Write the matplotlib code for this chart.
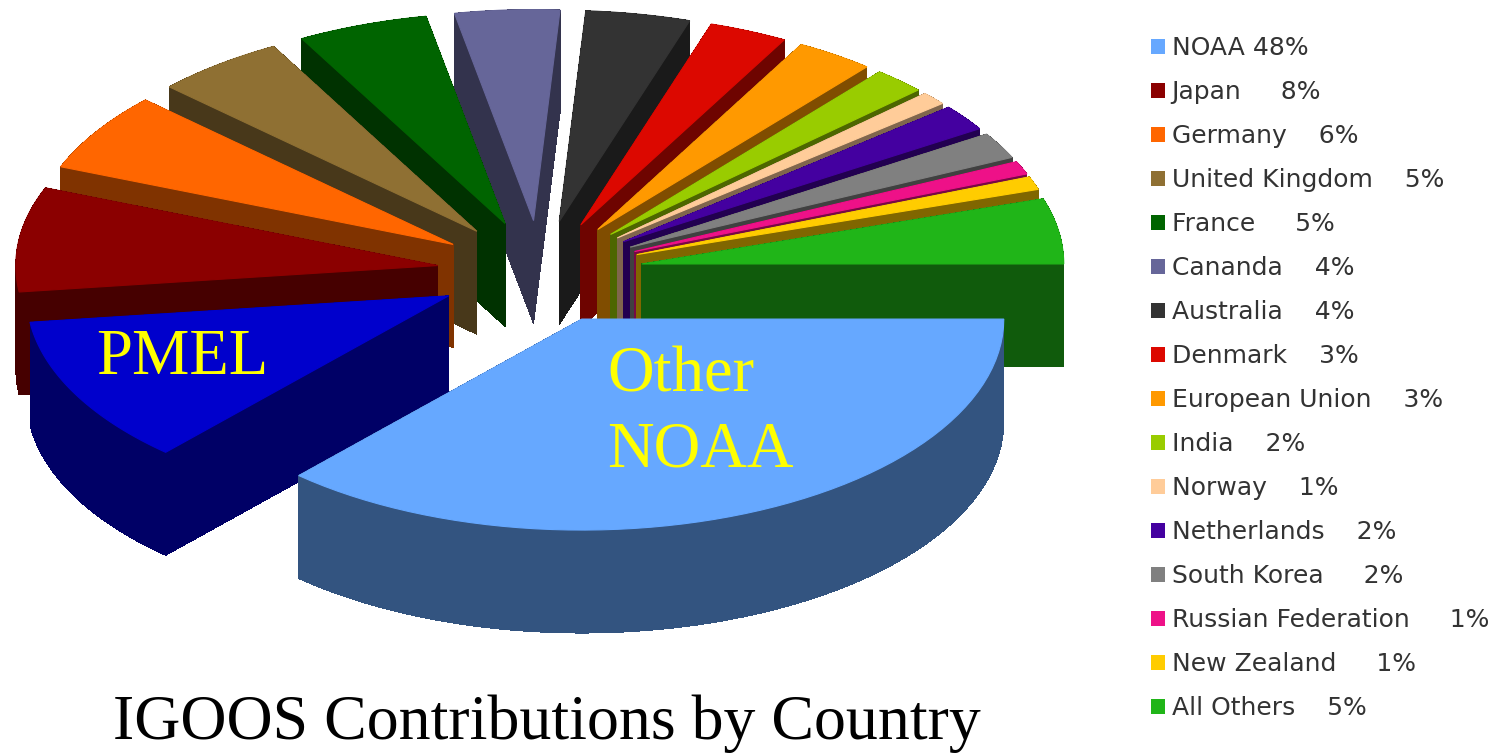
import numpy as np
import matplotlib
matplotlib.use('Agg')
import matplotlib.pyplot as plt
from matplotlib.collections import PolyCollection
from matplotlib.patches import Patch, Polygon

# Slices in clockwise order, NOAA split into its two parts
slice_names = ['Other NOAA', 'PMEL', 'Japan', 'Germany', 'United Kingdom', 'France',
               'Cananda', 'Australia', 'Denmark', 'European Union', 'India', 'Norway',
               'Netherlands', 'South Korea', 'Russian Federation', 'New Zealand', 'All Others']
slice_values = [36.7, 11.3, 8, 6, 5, 5, 4, 4, 3, 3, 2, 1, 2, 2, 1, 1, 5]
slice_colors = ['#66A8FF', '#0000CC', '#8B0000', '#FF6600', '#8F7033', '#006400',
                '#666699', '#333333', '#DC0800', '#FF9900', '#99CC00', '#FFCC99',
                '#4400A0', '#808080', '#EE1188', '#FFCC00', '#20B518']

legend_labels = ['NOAA 48%', 'Japan     8%', 'Germany    6%', 'United Kingdom    5%', 'France     5%',
                 'Cananda    4%', 'Australia    4%', 'Denmark    3%', 'European Union    3%', 'India    2%',
                 'Norway    1%', 'Netherlands    2%', 'South Korea     2%', 'Russian Federation     1%',
                 'New Zealand     1%', 'All Others    5%']
legend_colors = ['#66A8FF'] + slice_colors[2:]

# Pie geometry, in image pixels
CX, CY = 540, 272
RADIUS = 422
SQUASH = 0.5
EXPLODE = 103
DEPTH = 103


def wedge_outline(start, end):
    """Top face of one exploded slice, angles in degrees clockwise from 3 o'clock."""
    mid = np.radians((start + end) / 2)
    ax0 = CX + EXPLODE * np.cos(mid)
    ay0 = CY + EXPLODE * SQUASH * np.sin(mid)
    t = np.radians(np.linspace(start, end, 60))
    xs = ax0 + RADIUS * np.cos(t)
    ys = ay0 + RADIUS * SQUASH * np.sin(t)
    return np.column_stack([np.r_[ax0, xs], np.r_[ay0, ys]])


def side_quads(outline):
    """One vertical quad per edge of the top face."""
    quads = []
    for p, q in zip(outline, np.roll(outline, -1, axis=0)):
        quads.append([p, q, q + [0, DEPTH], p + [0, DEPTH]])
    return quads


def darker(color):
    return tuple(c * 0.5 for c in matplotlib.colors.to_rgb(color))


fig = plt.figure(figsize=(14.95, 7.53), dpi=100)
ax = fig.add_axes([0, 0, 1, 1])
ax.set_xlim(0, 1495)
ax.set_ylim(753, 0)
ax.axis('off')

edges = np.cumsum([0] + slice_values) * 3.6
mids = (edges[:-1] + edges[1:]) / 2

# Paint from the back of the pie to the front
for i in np.argsort(np.sin(np.radians(mids))):
    outline = wedge_outline(edges[i], edges[i + 1])
    side = darker(slice_colors[i])
    ax.add_collection(PolyCollection(side_quads(outline), facecolors=[side], edgecolors='none',
                                     linewidths=0, antialiaseds=False))
    ax.add_patch(Polygon(outline, closed=True, facecolor=slice_colors[i], edgecolor=slice_colors[i], linewidth=0.8))

ax.text(96, 358, 'PMEL', color='#FFFF00', fontsize=46.5, family='Liberation Serif', ha='left', va='center')
ax.text(607, 376, 'Other', color='#FFFF00', fontsize=46.5, family='Liberation Serif', ha='left', va='center')
ax.text(607, 451, 'NOAA', color='#FFFF00', fontsize=46.5, family='Liberation Serif', ha='left', va='center')
ax.text(547, 724, 'IGOOS Contributions by Country', color='black', fontsize=46,
        family='Liberation Serif', ha='center', va='center')

handles = [Patch(facecolor=c, edgecolor='none') for c in legend_colors]
ax.legend(handles, legend_labels, loc='upper left', bbox_to_anchor=(1151, 36), bbox_transform=ax.transData,
          frameon=False, prop={'family': 'DejaVu Sans', 'size': 18}, labelcolor='#333333',
          handlelength=0.55, handleheight=0.55, handletextpad=0.28, labelspacing=0.80,
          borderpad=0, borderaxespad=0)

fig.savefig('out.png', dpi=100)
